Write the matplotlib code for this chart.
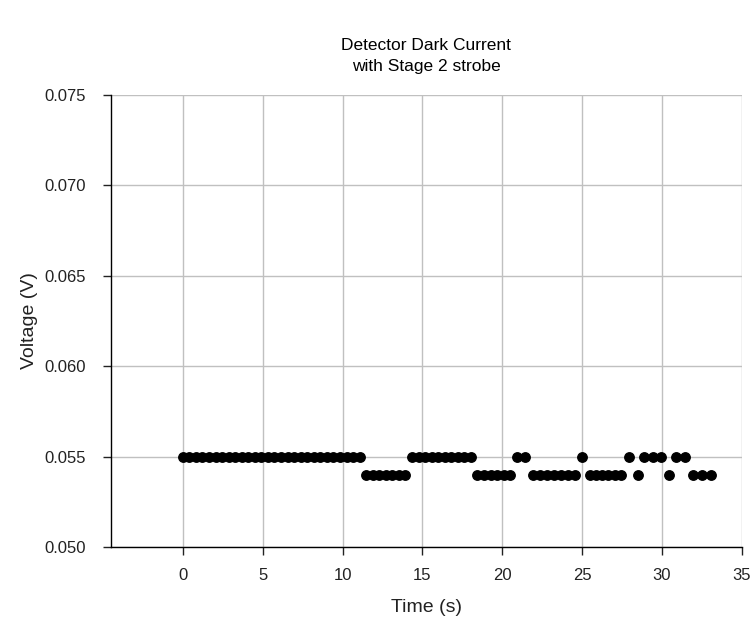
import matplotlib
matplotlib.use("Agg")
import matplotlib.pyplot as plt

# readings taken off the chart, time in seconds and detector voltage in volts
time_s = [
    0.00, 0.41, 0.82, 1.23, 1.64, 2.05, 2.46, 2.87, 3.28, 3.69,
    4.10, 4.51, 4.92, 5.33, 5.74, 6.15, 6.56, 6.97, 7.38, 7.79,
    8.20, 8.61, 9.02, 9.43, 9.84, 10.25, 10.66, 11.07,
    11.48, 11.89, 12.30, 12.71, 13.12, 13.53, 13.94,
    14.35, 14.76, 15.17, 15.58, 15.99, 16.40, 16.81, 17.22, 17.63, 18.04,
    18.45, 18.86, 19.27, 19.68, 20.09, 20.50,
    20.95, 21.40,
    21.95, 22.38, 22.81, 23.24, 23.67, 24.10, 24.53,
    24.97,
    25.48, 25.87, 26.26, 26.65, 27.04, 27.43,
    27.96,
    28.50,
    28.90, 29.42, 29.94,
    30.46,
    30.90, 31.45,
    31.95, 32.50, 33.05,
]
voltage = (
    [0.055] * 28
    + [0.054] * 7
    + [0.055] * 10
    + [0.054] * 6
    + [0.055] * 2
    + [0.054] * 7
    + [0.055]
    + [0.054] * 6
    + [0.055]
    + [0.054]
    + [0.055] * 3
    + [0.054]
    + [0.055] * 2
    + [0.054] * 3
)

x_ticks = [0, 5, 10, 15, 20, 25, 30, 35]
y_ticks = [0.050, 0.055, 0.060, 0.065, 0.070, 0.075]

plt.rcParams["font.family"] = ["Liberation Sans", "DejaVu Sans"]

fig = plt.figure(figsize=(7.52, 6.22), dpi=100)
ax = fig.add_axes([0.1476, 0.1206, 0.8387, 0.7267])

ax.plot(time_s, voltage, "o", color="black", markersize=6.8, zorder=3)

ax.set_xlim(-4.5, 35)
ax.set_ylim(0.050, 0.075)
ax.set_xticks(x_ticks)
ax.set_yticks(y_ticks)
ax.set_yticklabels([f"{v:.3f}" for v in y_ticks])
ax.grid(True, color="#c0c0c0", linewidth=1.0)
ax.set_axisbelow(True)

for side in ["top", "right"]:
    ax.spines[side].set_visible(False)
for side in ["left", "bottom"]:
    ax.spines[side].set_color("black")
    ax.spines[side].set_linewidth(1.0)

ax.tick_params(direction="out", length=6, width=1, labelsize=12, colors="#222222")
ax.tick_params(axis="x", pad=9)
ax.tick_params(axis="y", pad=12)

ax.set_xlabel("Time (s)", fontsize=14, labelpad=12, color="#222222")
ax.set_ylabel("Voltage (V)", fontsize=14, labelpad=5, color="#222222")
ax.set_title("Detector Dark Current\nwith Stage 2 strobe", fontsize=12.5, pad=17,
             linespacing=1.5)

fig.savefig("out.png", dpi=100)
